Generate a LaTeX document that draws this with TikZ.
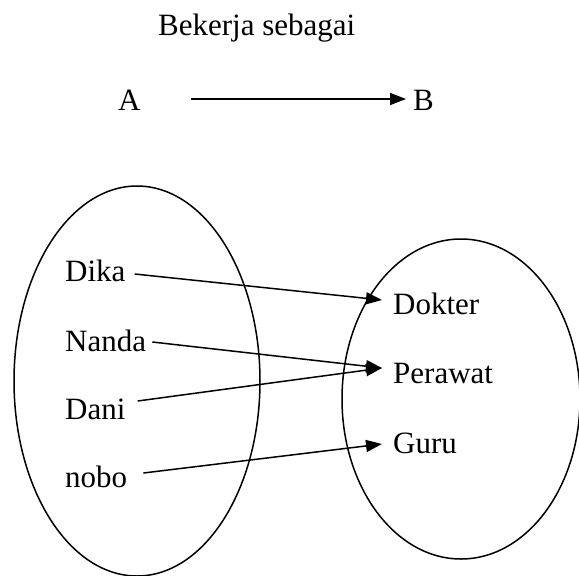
\documentclass[tikz,border=0pt]{standalone}
\usepackage{fontspec}
\setmainfont{Liberation Serif}
\usetikzlibrary{arrows.meta}
\begin{document}
\begin{tikzpicture}[x=1pt,y=-1pt,
  lbl/.style={inner sep=0pt,anchor=base west,font=\fontsize{31}{36}\selectfont},
  setshape/.style={draw,line width=1.5pt},
  arr/.style={line width=1.5pt,-{Triangle[length=16pt,width=12pt]}}]
\useasboundingbox (0,0) rectangle (579,576);

% heading and the A -> B legend
\node[lbl] (title) at (158,35) {Bekerja sebagai};
\node[lbl] (A) at (118,110) {A};
\node[lbl] (B) at (413,110) {B};
\draw[arr] ([shift={(50pt,11pt)}]A.base east) -- ([shift={(-7pt,11pt)}]B.base west);

% the two sets
\draw[setshape] (137,381) ellipse [x radius=123, y radius=195];
\draw[setshape] (461,399) ellipse [x radius=119, y radius=160];

% members of A
\node[lbl] (dika)  at (65,281) {Dika};
\node[lbl] (nanda) at (65,351) {Nanda};
\node[lbl] (dani)  at (65,419) {Dani};
\node[lbl] (nobo)  at (65,487) {nobo};

% members of B
\node[lbl] (dokter)  at (393,314) {Dokter};
\node[lbl] (perawat) at (393,383) {Perawat};
\node[lbl] (guru)    at (393,453) {Guru};

% the mapping
\draw[arr] ([shift={(9pt,7pt)}]dika.base east)  -- ([shift={(-11pt,14pt)}]dokter.base west);
\draw[arr] ([shift={(6pt,9pt)}]nanda.base east) -- ([shift={(-11pt,15pt)}]perawat.base west);
\draw[arr] ([shift={(12pt,18pt)}]dani.base east) -- ([shift={(-11pt,15pt)}]perawat.base west);
\draw[arr] ([shift={(16pt,14pt)}]nobo.base east) -- ([shift={(-11pt,9pt)}]guru.base west);
\end{tikzpicture}
\end{document}
